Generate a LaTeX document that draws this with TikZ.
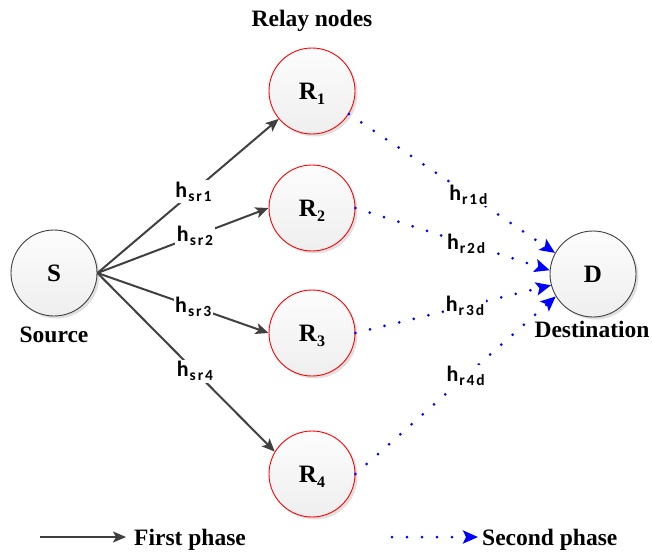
\documentclass[tikz,border=0pt]{standalone}
\usepackage{fontspec}
\setmainfont{Liberation Serif}
\newfontfamily\labfont{Carlito}
\usetikzlibrary{arrows.meta,shadows}

% lowered index inside a node (R_1 ... R_4)
\newcommand\relsub[1]{\raisebox{-5pt}[0pt][0pt]{\fontsize{16}{16}\selectfont #1}}
% lowered index of a channel label (h_sr1 ...)
\newcommand\chsub[1]{\kern1pt\raisebox{-4pt}{\fontsize{15.5}{16}\selectfont\addfontfeature{LetterSpace=12}#1}}

\begin{document}
\begin{tikzpicture}[x=1pt,y=-1pt,
  nodebox/.style={circle, minimum size=86pt, inner sep=0pt, line width=0.9pt,
    top color=gray!2, bottom color=gray!13,
    drop shadow={shadow xshift=2.5pt, shadow yshift=-2.5pt, fill=black, opacity=0.12},
    font=\fontsize{25}{27}\selectfont\bfseries},
  endbox/.style={nodebox, draw=black!75},
  relaybox/.style={nodebox, draw=red},
  caption/.style={font=\fontsize{23.5}{26}\selectfont\bfseries, inner sep=0pt},
  chlabel/.style={fill=white, inner sep=1.5pt,
    font=\labfont\bfseries\fontsize{22}{23}\selectfont},
  firstarrow/.style={draw=black!75, line width=2pt,
    -{Stealth[length=13pt,width=11pt,inset=3pt]}},
  secondarrow/.style={draw=blue, line width=3pt, line cap=round,
    dash pattern=on 0pt off 15pt,
    -{Stealth[length=15pt,width=13pt,inset=3pt]}},
]
\useasboundingbox (0,0) rectangle (652,552);

% nodes
\node[endbox]   (S)  at (54,273)  {S};
\node[relaybox] (R1) at (312,91)  {R\relsub{1}};
\node[relaybox] (R2) at (312,208) {R\relsub{2}};
\node[relaybox] (R3) at (312,333) {R\relsub{3}};
\node[relaybox] (R4) at (312,474) {R\relsub{4}};
\node[endbox]   (D)  at (593,274) {D};

% captions
\node[caption, anchor=base] (relaycap) at (312,26)  {Relay nodes};
\node[caption, anchor=base] (srccap)   at (54,342)  {Source};
\node[caption, anchor=base] (dstcap)   at (592,337) {Destination};

% first phase: source to relays
\draw[firstarrow] (S.east) -- node[chlabel, pos=0.53] (l1) {h\chsub{sr1}} (R1.220);
\draw[firstarrow] (S.east) -- node[chlabel, pos=0.57] (l2) {h\chsub{sr2}} (R2.west);
\draw[firstarrow] (S.east) -- node[chlabel, pos=0.56] (l3) {h\chsub{sr3}} (R3.west);
\draw[firstarrow] (S.east) -- node[chlabel, pos=0.55] (l4) {h\chsub{sr4}} (R4.149);

% second phase: relays to destination
\draw[secondarrow] (R1.-32)  -- node[chlabel, pos=0.58] (m1) {h\chsub{r1d}} (D.151);
\draw[secondarrow] (R2.east) -- node[chlabel, pos=0.57] (m2) {h\chsub{r2d}} (D.175);
\draw[secondarrow] (R3.east) -- node[chlabel, pos=0.56] (m3) {h\chsub{r3d}} (D.195);
\draw[secondarrow] (R4.east) -- node[chlabel, pos=0.55] (m4) {h\chsub{r4d}} (D.211);

% legend
\coordinate (fpa) at (40,537);
\coordinate (fpb) at (126,537);
\draw[firstarrow] (fpa) -- (fpb);
\node[caption, anchor=base west] (fplab) at (134,545) {First phase};
\coordinate (spa) at (392,537);
\coordinate (spb) at (478,537);
\draw[secondarrow] (spa) -- (spb);
\node[caption, anchor=base west] (splab) at (482,545) {Second phase};
\end{tikzpicture}
\end{document}
